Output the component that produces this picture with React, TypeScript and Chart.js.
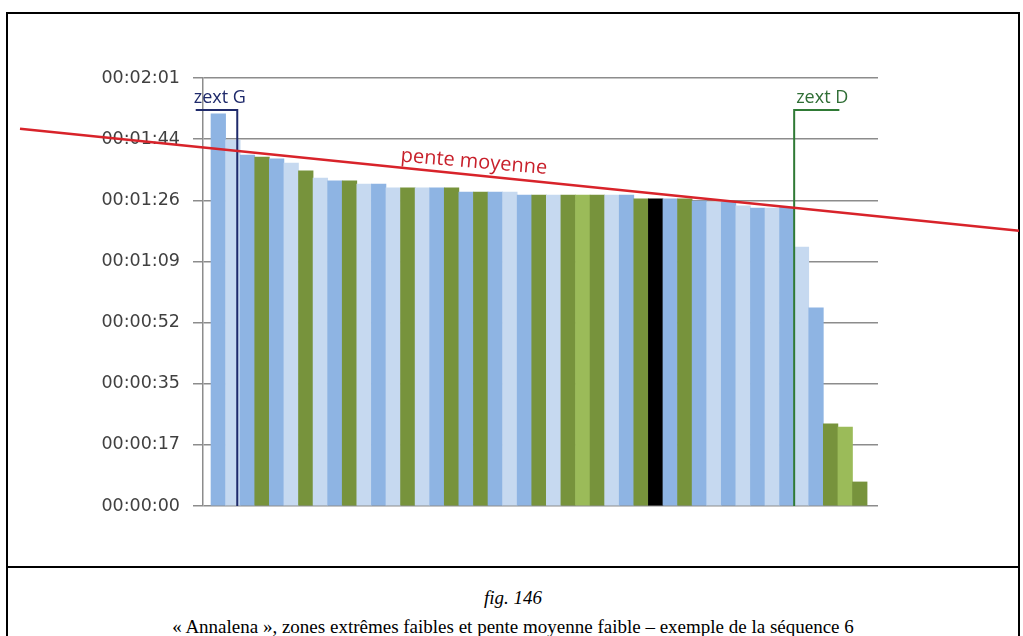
import { useEffect, useRef } from "react";
import { Chart, registerables } from "chart.js";

Chart.register(...registerables);

// Durations per bar (seconds)
const barSeconds = [
  110.8, 103.4, 99.2, 98.6, 98.1, 96.9, 94.7, 92.7, 91.9, 91.9,
  91.0, 91.0, 89.9, 89.9, 89.9, 89.9, 89.9, 88.7, 88.7, 88.7,
  88.7, 87.9, 87.9, 87.9, 87.9, 87.9, 87.9, 87.9, 87.9, 86.8,
  86.8, 86.8, 86.8, 86.2, 85.9, 85.9, 84.8, 84.2, 84.2, 84.5,
  73.2, 56.0, 23.2, 22.3, 6.8,
];
// Bar kinds: B blue, L light blue, G green, V light green, K black
const barKinds = "BLBGBLGLBGLBLGLBGBGBLBGLGVGLBGKBGBLBLBLBLBGVG".split("");
const palette: Record<string, string> = {
  B: "#8EB4E3",
  L: "#C6D9F0",
  G: "#77933C",
  V: "#9BBB59",
  K: "#000000",
};
// y ticks in seconds (Excel time step 0.0002 day)
const yTickSeconds = [0, 17.28, 34.56, 51.84, 69.12, 86.4, 103.68, 120.96];

// average slope line ("pente moyenne"), two points in data space
const penteLine = [
  { x: 0, y: 100.9 },
  { x: 44, y: 82.4 },
];
const penteLabel = { text: "pente moyenne", x: 17.5, y: 95.6 };
const zextG = { label: "zext G", x: 1.3, from: -1.55, top: 111.9 };
const zextD = { label: "zext D", x: 39.5, to: 42.6, top: 111.9 };

const fmt = (v: number) => {
  const s = Math.round(v);
  const m = Math.floor(s / 60);
  const ss = s % 60;
  return `00:${String(m).padStart(2, "0")}:${String(ss).padStart(2, "0")}`;
};

const overlay = {
  id: "overlay",
  afterDatasetsDraw(chart: any) {
    const { ctx } = chart;
    const x = chart.scales.x;
    const y = chart.scales.y;
    ctx.save();

    // zext G bracket
    ctx.strokeStyle = "#1F2A6B";
    ctx.lineWidth = 2;
    ctx.beginPath();
    ctx.moveTo(x.getPixelForValue(zextG.from), y.getPixelForValue(zextG.top));
    ctx.lineTo(x.getPixelForValue(zextG.x), y.getPixelForValue(zextG.top));
    ctx.lineTo(x.getPixelForValue(zextG.x), y.getPixelForValue(0));
    ctx.stroke();
    ctx.fillStyle = "#1F2A6B";
    ctx.font = "18px 'Open Sans'";
    ctx.textAlign = "left";
    ctx.textBaseline = "alphabetic";
    ctx.fillText(zextG.label, x.getPixelForValue(zextG.from) - 2, y.getPixelForValue(zextG.top) - 7);

    // zext D bracket
    ctx.strokeStyle = "#2F7A35";
    ctx.beginPath();
    ctx.moveTo(x.getPixelForValue(zextD.to), y.getPixelForValue(zextD.top));
    ctx.lineTo(x.getPixelForValue(zextD.x), y.getPixelForValue(zextD.top));
    ctx.lineTo(x.getPixelForValue(zextD.x), y.getPixelForValue(0));
    ctx.stroke();
    ctx.fillStyle = "#2F6E35";
    ctx.fillText(zextD.label, x.getPixelForValue(zextD.x) + 2, y.getPixelForValue(zextD.top) - 7);

    // pente moyenne line, extended across the figure
    const x1 = x.getPixelForValue(penteLine[0].x);
    const y1 = y.getPixelForValue(penteLine[0].y);
    const x2 = x.getPixelForValue(penteLine[1].x);
    const y2 = y.getPixelForValue(penteLine[1].y);
    const slope = (y2 - y1) / (x2 - x1);
    const L = 20;
    const R = 1019;
    ctx.strokeStyle = "#D8232A";
    ctx.lineWidth = 2.5;
    ctx.beginPath();
    ctx.moveTo(L, y1 + (L - x1) * slope);
    ctx.lineTo(R, y1 + (R - x1) * slope);
    ctx.stroke();

    // label
    ctx.translate(x.getPixelForValue(penteLabel.x), y.getPixelForValue(penteLabel.y));
    ctx.rotate(Math.atan(slope) * 0.85);
    ctx.fillStyle = "#C8202B";
    ctx.font = "20px 'Open Sans'";
    ctx.textAlign = "center";
    ctx.fillText(penteLabel.text, 0, 0);
    ctx.restore();
  },
};

export default function App() {
  const ref = useRef<HTMLCanvasElement>(null);
  useEffect(() => {
    const chart = new Chart(ref.current!, {
      type: "bar",
      data: {
        datasets: [
          {
            data: barSeconds.map((v, i) => ({ x: i, y: v })) as any,
            backgroundColor: barKinds.map((k) => palette[k]),
            borderWidth: 0,
            barPercentage: 1,
            categoryPercentage: 1,
          },
        ],
      },
      options: {
        animation: false,
        responsive: false,
        devicePixelRatio: 1,
        layout: { padding: { left: 0, top: 78, right: 145, bottom: 61 } },
        plugins: { legend: { display: false }, tooltip: { enabled: false } },
        scales: {
          x: {
            type: "linear",
            display: false,
            offset: false,
            min: -1.05,
            max: 45.25,
            afterBuildTicks: (s: any) => {
              s.ticks = barSeconds.map((_, i) => ({ value: i }));
            },
          },
          y: {
            min: 0,
            max: 120.96,
            afterBuildTicks: (s: any) => {
              s.ticks = yTickSeconds.map((v) => ({ value: v }));
            },
            afterFit: (s: any) => {
              s.width = 203;
            },
            ticks: {
              callback: (v: any) => fmt(Number(v)),
              font: { family: "'DejaVu Sans'", size: 17.5 },
              color: "#404040",
              padding: 13,
            },
            grid: { color: "#8c8c8c", lineWidth: 1.5, tickLength: 10 },
            border: { display: true, color: "#8c8c8c", width: 1.5 },
          },
        },
      },
      plugins: [overlay],
    });
    return () => chart.destroy();
  }, []);

  return (
    <div>
      <div
        style={{
          position: "absolute",
          left: 6,
          top: 12,
          width: 1010,
          height: 700,
          border: "2px solid #000",
        }}
      >
        <div style={{ position: "absolute", left: 0, right: 0, top: 552, borderTop: "2px solid #000" }} />
        <div
          style={{
            position: "absolute",
            left: 0,
            right: 0,
            top: 574,
            lineHeight: "20px",
            textAlign: "center",
            fontFamily: "'Liberation Serif', serif",
            fontStyle: "italic",
            fontSize: 19,
          }}
        >
          fig. 146
        </div>
        <div
          style={{
            position: "absolute",
            left: 0,
            right: 0,
            top: 603,
            lineHeight: "20px",
            textAlign: "center",
            fontFamily: "'Liberation Serif', serif",
            fontSize: 19,
          }}
        >
          « Annalena », zones extrêmes faibles et pente moyenne faible – exemple de la séquence 6
        </div>
      </div>
      <canvas ref={ref} width={1023} height={567} style={{ position: "absolute", left: 0, top: 0 }} />
    </div>
  );
}
